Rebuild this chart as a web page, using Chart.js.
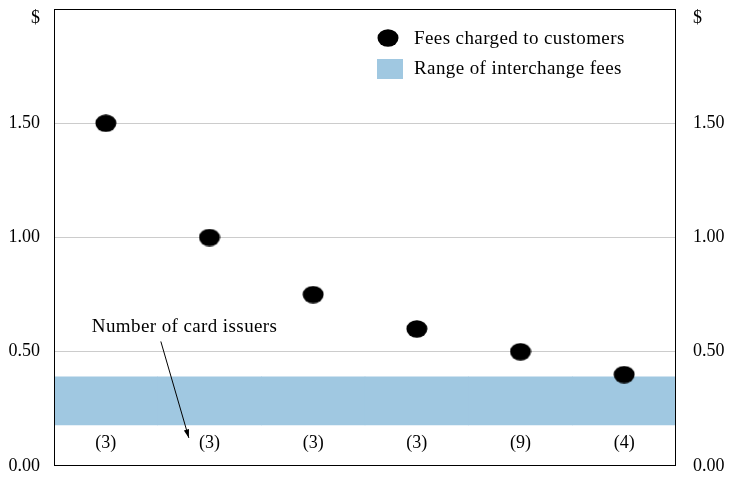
<!DOCTYPE html>
<html>
<head>
<meta charset="utf-8">
<script src="https://cdn.jsdelivr.net/npm/chart.js@4/dist/chart.umd.min.js"></script>
<style>
  html, body { margin: 0; padding: 0; background: #fff; }
  #wrap { width: 730px; height: 477px; }
</style>
</head>
<body>
<div id="wrap"><canvas id="grafica" width="730" height="477"></canvas></div>
<script>
// -------------------------
// Datos
// -------------------------
const categorias = ['A', 'B', 'C', 'D', 'E', 'F'];
const emisores = ['(3)', '(3)', '(3)', '(3)', '(9)', '(4)'];
const comisiones = [1.50, 1.00, 0.75, 0.60, 0.50, 0.40];
const rangoIntercambio = [0.18, 0.39];
const ticksY = [0, 0.5, 1.0, 1.5];

const FUENTE = '"Liberation Serif", "DejaVu Serif", serif';
const AZUL = '#a0c8e1';

// punto elíptico
function crearPunto() {
    const c = document.createElement('canvas');
    c.width = 22; c.height = 18;
    const g = c.getContext('2d');
    g.fillStyle = '#000';
    g.beginPath();
    g.ellipse(11, 9, 10.5, 8.7, 0, 0, Math.PI * 2);
    g.fill();
    return c;
}
const punto = crearPunto();

// -------------------------
// Plugin de extras
// -------------------------
const extras = {
    id: 'extras',
    afterDatasetsDraw(chart) {
        const ctx = chart.ctx;
        const a = chart.chartArea;
        const x = chart.scales.x;
        const y = chart.scales.y;
        ctx.save();

        // marco
        ctx.strokeStyle = '#000';
        ctx.lineWidth = 1;
        ctx.strokeRect(a.left + 0.5, a.top + 0.5, a.right - a.left - 1, a.bottom - a.top - 1);

        ctx.font = '18px ' + FUENTE;
        ctx.fillStyle = '#000';
        ctx.textBaseline = 'middle';

        // etiquetas de emisores
        ctx.textAlign = 'center';
        emisores.forEach((t, i) => {
            ctx.fillText(t, x.getPixelForValue(i), y.getPixelForValue(0.10));
        });

        // "$"
        ctx.textAlign = 'right';
        ctx.fillText('$', a.left - 14, a.top + 9);
        ctx.textAlign = 'left';
        ctx.fillText('$', a.right + 17, a.top + 9);

        // leyenda
        ctx.font = '19px ' + FUENTE;
        ctx.letterSpacing = '0.4px';
        ctx.drawImage(punto, a.left + 323, a.top + 20);
        ctx.fillText('Fees charged to customers', a.left + 360, a.top + 30);
        ctx.fillStyle = AZUL;
        ctx.fillRect(a.left + 323, a.top + 50, 26, 20);
        ctx.fillStyle = '#000';
        ctx.fillText('Range of interchange fees', a.left + 360, a.top + 60);

        // anotación
        ctx.fillText('Number of card issuers', x.getPixelForValue(0) - 14, y.getPixelForValue(0.61));
        const x0 = x.getPixelForValue(0) + 55, y0 = y.getPixelForValue(0.545);
        const x1 = x.getPixelForValue(0) + 83, y1 = y.getPixelForValue(0.123);
        ctx.beginPath();
        ctx.moveTo(x0, y0);
        ctx.lineTo(x1, y1);
        ctx.stroke();
        const ang = Math.atan2(y1 - y0, x1 - x0);
        ctx.beginPath();
        ctx.moveTo(x1, y1);
        ctx.lineTo(x1 - 9 * Math.cos(ang - 0.3), y1 - 9 * Math.sin(ang - 0.3));
        ctx.lineTo(x1 - 9 * Math.cos(ang + 0.3), y1 - 9 * Math.sin(ang + 0.3));
        ctx.closePath();
        ctx.fill();

        ctx.restore();
    }
};

const ejeY = (pos, pad) => ({
    position: pos,
    min: 0,
    max: 2,
    afterBuildTicks: s => { s.ticks = ticksY.map(v => ({ value: v })); },
    afterFit: s => {
        s.width = 54;
        s.paddingTop = 0;
        s.paddingBottom = 0;
    },
    border: { display: false },
    grid: {
        drawTicks: false,
        color: ctx => (ctx.tick && ctx.tick.value > 0 && pos === 'left') ? '#cccccc' : 'rgba(0,0,0,0)',
        lineWidth: 1
    },
    ticks: {
        padding: pad,
        color: '#000',
        font: { family: FUENTE, size: 18 },
        callback: v => v.toFixed(2)
    }
});

new Chart(document.getElementById('grafica'), {
    data: {
        labels: categorias,
        datasets: [
            {
                type: 'scatter',
                label: 'Fees charged to customers',
                data: comisiones.map((v, i) => ({ x: i, y: v })),
                pointStyle: punto,
                order: 0
            },
            {
                type: 'bar',
                label: 'Range of interchange fees',
                data: categorias.map(() => rangoIntercambio),
                backgroundColor: AZUL,
                borderWidth: 0,
                barPercentage: 1,
                categoryPercentage: 1,
                order: 1
            }
        ]
    },
    options: {
        responsive: false,
        animation: false,
        layout: { padding: { top: 9, bottom: 11, left: 0, right: 0 } },
        plugins: {
            legend: { display: false },
            tooltip: { enabled: false }
        },
        scales: {
            x: {
                type: 'category',
                display: false,
                offset: true
            },
            y: ejeY('left', 14),
            y2: ejeY('right', 17)
        }
    },
    plugins: [extras]
});
</script>
</body>
</html>
